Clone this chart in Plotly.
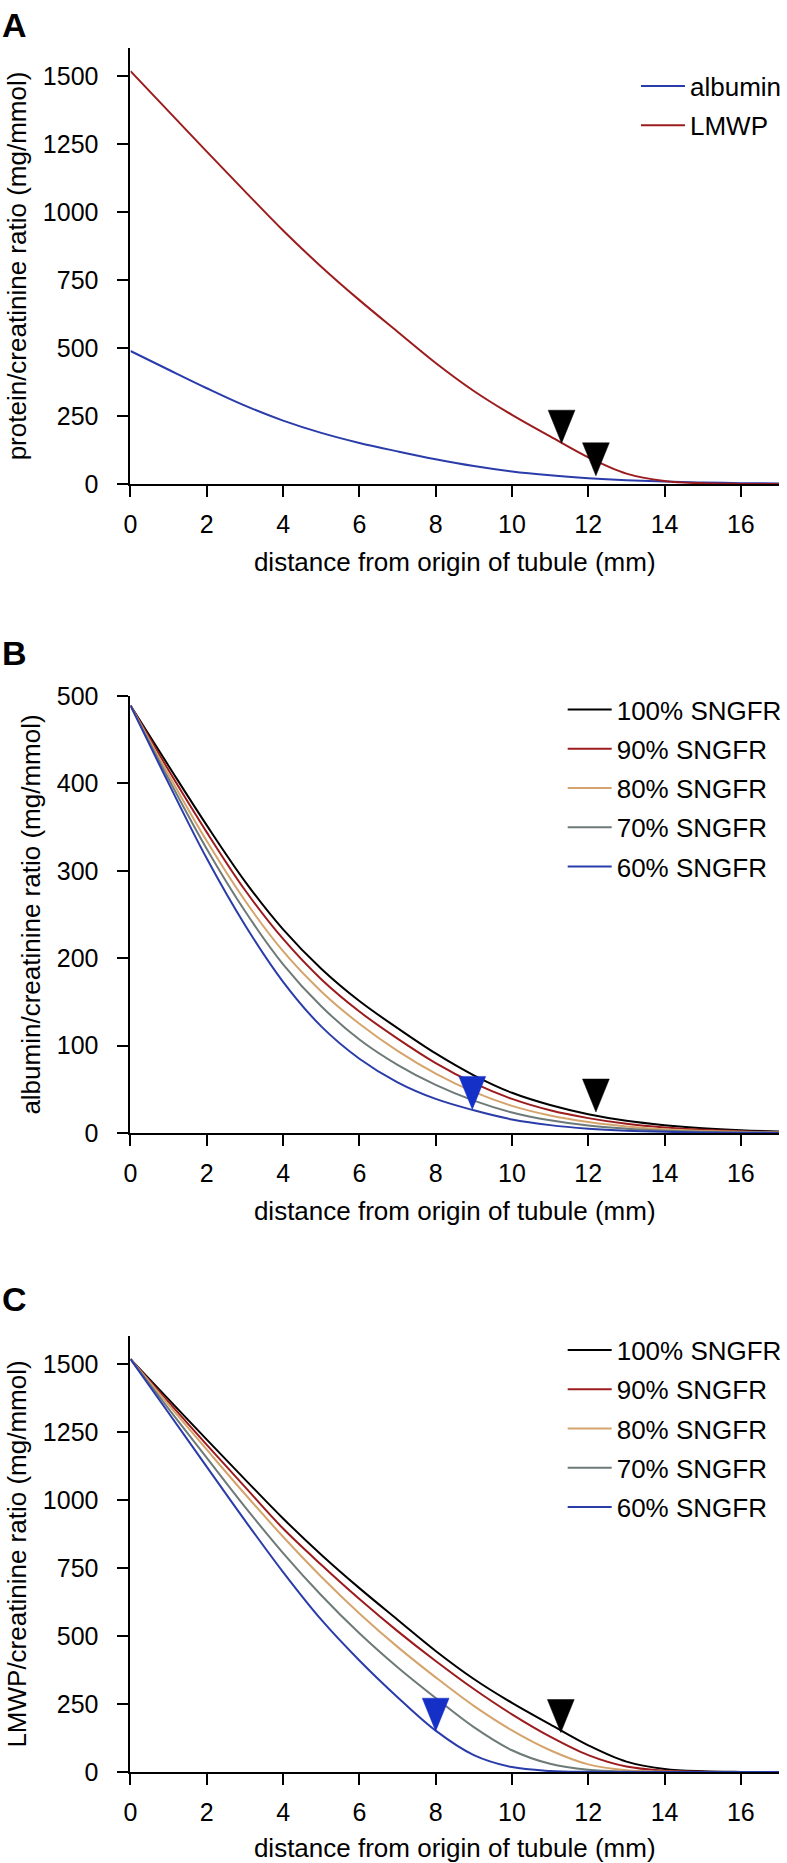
import plotly.graph_objects as go

FONT = "Liberation Sans, Arial, Helvetica, sans-serif"
W, H = 787, 1863

# ---------------- data ----------------
x_mm = list(range(18))  # distance from origin of tubule (mm)

# Panel B: albumin/creatinine ratio (mg/mmol) for different SNGFR
alb_100 = [489, 420, 352, 288, 233, 188, 151, 120, 91, 66, 46, 32, 21.5, 14, 9, 5.5, 3.2, 1.8]
alb_90 = [489, 415, 344, 278, 222, 176, 139, 108, 80, 57, 39, 26, 17, 10.5, 6.3, 3.7, 2.1, 1.1]
alb_80 = [489, 410, 334, 266, 208, 162, 125, 94, 68, 47, 31, 20, 12.5, 7.5, 4.3, 2.4, 1.3, 0.7]
alb_70 = [489, 405, 325, 254, 193, 145, 107, 78, 55, 37, 23.5, 14.5, 8.5, 5, 2.7, 1.4, 0.7, 0.3]
alb_60 = [489, 400, 314, 238, 173, 122, 85, 58, 39, 26, 15.5, 9, 5, 2.6, 1.3, 0.6, 0.3, 0.1]

# Panel C: LMWP/creatinine ratio (mg/mmol) for different SNGFR
lm_100 = [1518, 1370, 1222, 1076, 932, 799, 676, 560, 445, 342, 254, 175, 98, 38, 11, 2.5, 0.3, 0]
lm_90 = [1518, 1360, 1203, 1048, 895, 762, 636, 518, 408, 305, 212, 130, 62, 20, 5, 1, 0.2, 0]
lm_80 = [1518, 1350, 1185, 1022, 865, 718, 583, 460, 348, 243, 153, 80, 28, 6.5, 1.5, 0.3, 0, 0]
lm_70 = [1518, 1335, 1155, 975, 805, 650, 510, 385, 272, 165, 80, 30, 8, 1.5, 0.4, 0, 0, 0]
lm_60 = [1518, 1320, 1122, 925, 735, 560, 410, 275, 152, 62, 18, 4, 1, 0.2, 0, 0, 0, 0]

# Panel A: albumin and LMWP at 100% SNGFR
albumin = alb_100
lmwp = lm_100

sngfr_labels = ["100% SNGFR", "90% SNGFR", "80% SNGFR", "70% SNGFR", "60% SNGFR"]

# arrowhead markers (x, y of the tip)
tri_A_x, tri_A_y = [11.3, 12.2], [150, 30]
tri_B_blue_x, tri_B_blue_y = [8.96], [27]
tri_B_black_x, tri_B_black_y = [12.2], [24]
tri_C_blue_x, tri_C_blue_y = [8.0], [150]
tri_C_black_x, tri_C_black_y = [11.28], [145]

x_ticks = [0, 2, 4, 6, 8, 10, 12, 14, 16]
y_ticks_A = [0, 250, 500, 750, 1000, 1250, 1500]
y_ticks_B = [0, 100, 200, 300, 400, 500]
y_ticks_C = [0, 250, 500, 750, 1000, 1250, 1500]

# ---------------- styles / geometry ----------------
BLUE = "#2a3caa"
RED = "#9c1c1e"
TAN = "#d5a46c"
GRAY = "#6d7a77"
BLACK = "#000000"
TRI_BLUE = "#1530c6"
sngfr_colors = [BLACK, RED, TAN, GRAY, BLUE]

X_LEFT, X_RIGHT = 131.5, 785.0
X_RANGE = [0, 17]
PANELS = {  # (top px, bottom px, y range)
    "A": (48, 484, [0, 1603]),
    "B": (696, 1133, [0, 500]),
    "C": (1336, 1772, [0, 1603]),
}
TRI_W_PX, TRI_H_PX = 27, 33
LEG_ITEM_W = 44

fig = go.Figure()


def add_line(x, y, name, color, xa, ya, legend):
    fig.add_trace(go.Scatter(
        x=x, y=y, mode="lines", name=name,
        line=dict(color=color, width=2, shape="spline", smoothing=1.0),
        xaxis=xa, yaxis=ya, legend=legend, legendgroup=legend + name,
        hoverinfo="skip"))


def add_tri(xs, ys, color, xa, ya, panel):
    top, bot, yr = PANELS[panel]
    hw = TRI_W_PX / 2 * (X_RANGE[1] - X_RANGE[0]) / (X_RIGHT - X_LEFT)
    hh = TRI_H_PX * (yr[1] - yr[0]) / (bot - top)
    for x0, y0 in zip(xs, ys):
        fig.add_trace(go.Scatter(
            x=[x0 - hw, x0 + hw, x0, x0 - hw], y=[y0 + hh, y0 + hh, y0, y0 + hh],
            mode="lines", fill="toself", fillcolor=color,
            line=dict(color=color, width=0.5), showlegend=False,
            xaxis=xa, yaxis=ya, hoverinfo="skip"))


# Panel A
add_line(x_mm, albumin, "albumin", BLUE, "x", "y", "legend")
add_line(x_mm, lmwp, "LMWP", RED, "x", "y", "legend")
add_tri(tri_A_x, tri_A_y, BLACK, "x", "y", "A")

# Panel B
for vals, lab, col in zip([alb_100, alb_90, alb_80, alb_70, alb_60], sngfr_labels, sngfr_colors):
    add_line(x_mm, vals, lab, col, "x2", "y2", "legend2")
add_tri(tri_B_blue_x, tri_B_blue_y, TRI_BLUE, "x2", "y2", "B")
add_tri(tri_B_black_x, tri_B_black_y, BLACK, "x2", "y2", "B")

# Panel C
for vals, lab, col in zip([lm_100, lm_90, lm_80, lm_70, lm_60], sngfr_labels, sngfr_colors):
    add_line(x_mm, vals, lab, col, "x3", "y3", "legend3")
add_tri(tri_C_blue_x, tri_C_blue_y, TRI_BLUE, "x3", "y3", "C")
add_tri(tri_C_black_x, tri_C_black_y, BLACK, "x3", "y3", "C")

# ---------------- layout ----------------
x_dom = [X_LEFT / W, X_RIGHT / W]


def ydom(panel):
    top, bot, _ = PANELS[panel]
    return [1 - bot / H, 1 - top / H]


def xaxis_cfg(anchor):
    return dict(
        domain=x_dom, range=X_RANGE, anchor=anchor, tickvals=x_ticks,
        ticks="outside", ticklen=11, tickwidth=2, tickcolor="black",
        showline=True, linewidth=2, linecolor="black", showgrid=False, zeroline=False,
        tickfont=dict(size=25, family=FONT, color="black"), ticklabelstandoff=6,
        title=dict(text="distance from origin of tubule (mm)", standoff=16,
                   font=dict(size=26, family=FONT, color="black")),
        automargin=False, fixedrange=True)


def yaxis_cfg(anchor, panel, tv, title):
    return dict(
        domain=ydom(panel), range=PANELS[panel][2], anchor=anchor, tickvals=tv,
        ticks="outside", ticklen=11, tickwidth=2, tickcolor="black",
        showline=True, linewidth=2, linecolor="black", showgrid=False, zeroline=False,
        tickfont=dict(size=25, family=FONT, color="black"), ticklabelstandoff=14,
        title=dict(text=title, standoff=9, font=dict(size=26, family=FONT, color="black")),
        automargin=False, fixedrange=True)


def legend_cfg(text_x_px, top_px):
    left = text_x_px - (LEG_ITEM_W + 10)
    return dict(
        x=left / W, y=1 - top_px / H, xanchor="left", yanchor="top",
        font=dict(size=26, family=FONT, color="black"),
        bgcolor="rgba(0,0,0,0)", borderwidth=0, tracegroupgap=2.5,
        traceorder="grouped", itemwidth=LEG_ITEM_W)


def letter(t, y_px):
    return dict(text="<b>%s</b>" % t, x=0, y=1 - y_px / H, xref="paper", yref="paper",
                xanchor="left", yanchor="middle", showarrow=False,
                font=dict(size=34, family=FONT, color="black"))


fig.update_layout(
    width=W, height=H,
    margin=dict(l=0, r=0, t=0, b=0),
    paper_bgcolor="white", plot_bgcolor="white",
    font=dict(family=FONT, size=25, color="black"),
    showlegend=True,
    xaxis=xaxis_cfg("y"),
    yaxis=yaxis_cfg("x", "A", y_ticks_A, "protein/creatinine ratio (mg/mmol)"),
    xaxis2=xaxis_cfg("y2"),
    yaxis2=yaxis_cfg("x2", "B", y_ticks_B, "albumin/creatinine ratio (mg/mmol)"),
    xaxis3=xaxis_cfg("y3"),
    yaxis3=yaxis_cfg("x3", "C", y_ticks_C, "LMWP/creatinine ratio (mg/mmol)"),
    legend=legend_cfg(695, 62.5),
    legend2=legend_cfg(621, 686),
    legend3=legend_cfg(621, 1326.5),
    annotations=[letter("A", 25), letter("B", 653), letter("C", 1299)],
)

fig.write_html("out.html", config={"displayModeBar": False},
               post_script="document.body.style.margin='0px';")
